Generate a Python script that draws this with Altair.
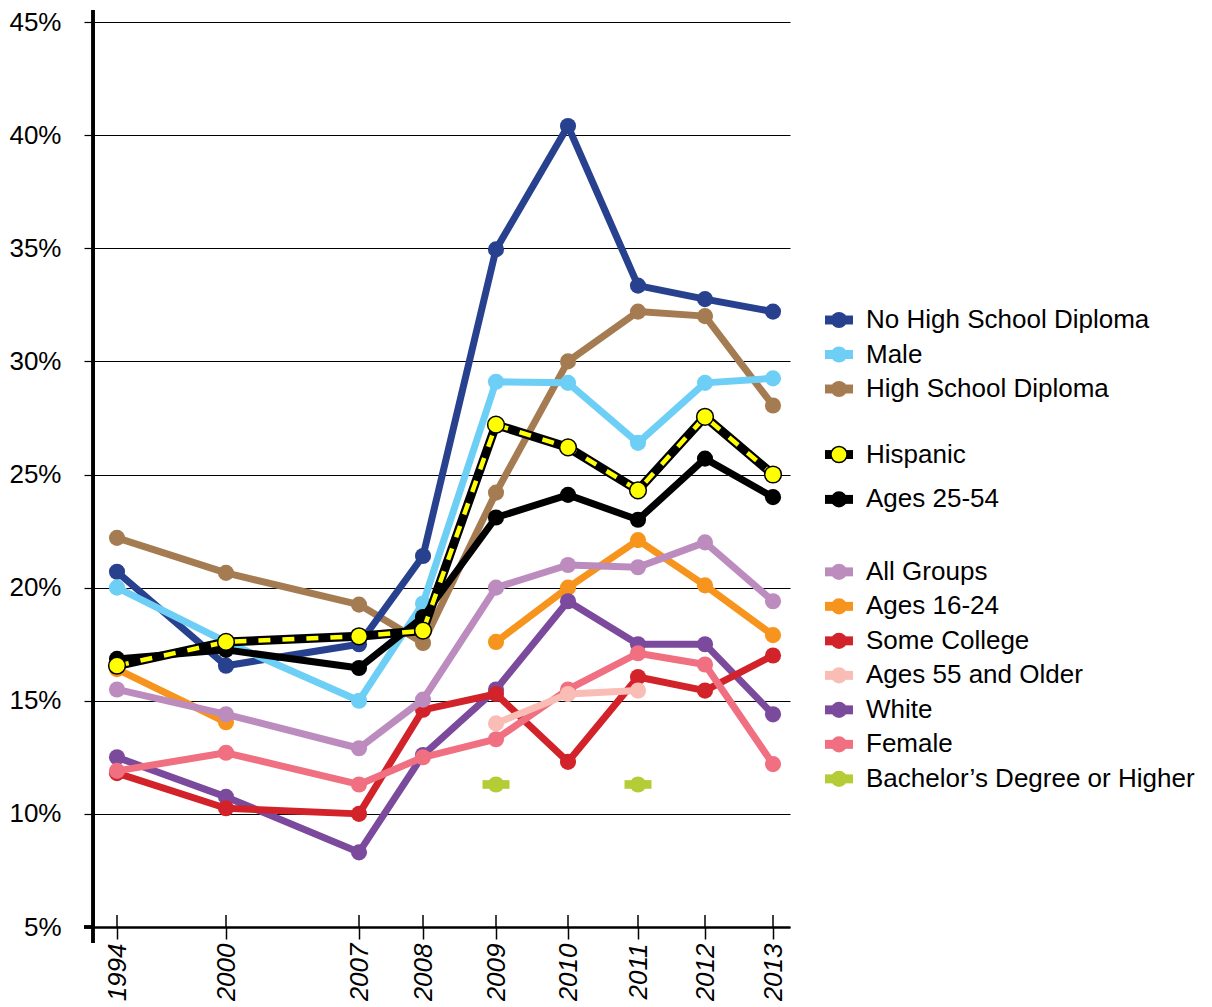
import altair as alt
import pandas as pd

# ---------------- data ----------------
years = [1994, 2000, 2007, 2008, 2009, 2010, 2011, 2012, 2013]

no_hs_diploma = [20.7, 16.55, 17.5, 21.4, 34.95, 40.4, 33.35, 32.75, 32.2]
male = [20.0, 17.6, 15.0, 19.3, 29.1, 29.05, 26.4, 29.05, 29.25]
hs_diploma = [22.2, 20.65, 19.25, 17.55, 24.2, 30.0, 32.2, 32.0, 28.05]
hispanic = [16.55, 17.6, 17.85, 18.1, 27.2, 26.2, 24.3, 27.55, 25.0]
ages_25_54 = [16.85, 17.25, 16.45, 18.7, 23.1, 24.1, 23.0, 25.7, 24.0]
all_groups = [15.5, 14.4, 12.9, 15.05, 20.0, 21.0, 20.9, 22.0, 19.4]
ages_16_24 = [16.4, 14.05, None, None, 17.6, 20.0, 22.1, 20.1, 17.9]
some_college = [11.8, 10.25, 10.0, 14.6, 15.3, 12.3, 16.05, 15.45, 17.0]
ages_55_older = [None, None, None, None, 14.0, 15.3, 15.45, None, None]
white = [12.5, 10.75, 8.3, 12.6, 15.5, 19.4, 17.5, 17.5, 14.4]
female = [11.9, 12.7, 11.3, 12.5, 13.3, 15.5, 17.1, 16.6, 12.2]
bachelors = [None, None, None, None, 11.3, None, 11.3, None, None]

series_names = [
    "No High School Diploma", "Male", "High School Diploma",
    "Hispanic", "Ages 25-54",
    "All Groups", "Ages 16-24", "Some College", "Ages 55 and Older",
    "White", "Female", "Bachelor\u2019s Degree or Higher",
]
series_values = [
    no_hs_diploma, male, hs_diploma, hispanic, ages_25_54, all_groups,
    ages_16_24, some_college, ages_55_older, white, female, bachelors,
]
y_ticks = [5, 10, 15, 20, 25, 30, 35, 40, 45]

# ---------------- styles ----------------
colors = {
    "No High School Diploma": "#27418f",
    "Male": "#6dcff6",
    "High School Diploma": "#a57c52",
    "Hispanic": "#000000",
    "Ages 25-54": "#000000",
    "All Groups": "#bc8cbf",
    "Ages 16-24": "#f7941e",
    "Some College": "#d2232a",
    "Ages 55 and Older": "#f9bdb5",
    "White": "#7b4a9c",
    "Female": "#f06f80",
    "Bachelor\u2019s Degree or Higher": "#b5cc36",
}
draw_order = [
    "Bachelor\u2019s Degree or Higher", "Ages 16-24", "White", "Some College",
    "Female", "Ages 55 and Older", "All Groups", "High School Diploma",
    "No High School Diploma", "Male", "Ages 25-54", "Hispanic",
]
# legend row slots (gaps between groups)
legend_slots = [0, 1, 2, 3.9, 5.2, 7.3, 8.3, 9.3, 10.3, 11.3, 12.3, 13.3]

W, H = 697, 905
FONT = "Liberation Sans"
BAR_PATH = "M-1,-0.32L1,-0.32L1,0.32L-1,0.32Z"
DOT = 260

# x scale: piecewise positions of the (unevenly spaced) years
x_domain = [1992.68] + years + [2013.25]
x_range = [0, 24, 133, 266, 330, 403, 475, 545, 612, 680, 697]

rows = []
for name, vals in zip(series_names, series_values):
    seg, gap = 0, True
    for yr, v in zip(years, vals):
        if v is None:
            gap = True
            continue
        if gap:
            seg += 1
            gap = False
        rows.append(dict(series=name, year=yr, value=v, seg=seg))
df = pd.DataFrame(rows)

xscale = alt.Scale(domain=x_domain, range=x_range, zero=False, nice=False)
yscale = alt.Scale(domain=[5, 45], zero=False, nice=False)
xaxis = alt.Axis(values=years, format="d", labelAngle=-90, labelFontStyle="italic",
                 labelFontSize=26, labelColor="black", labelFont=FONT, labelPadding=4,
                 labelOverlap=False, labelFlush=False, tickSize=12, tickWidth=1.5,
                 tickColor="black", domainColor="black", domainWidth=2.5, grid=False,
                 title=None)
yaxis = alt.Axis(values=y_ticks, labelExpr="datum.value + '%'", labelFontSize=26,
                 labelColor="black", labelFont=FONT, labelPadding=23, tickSize=9,
                 tickWidth=1.2, tickColor="black", domainColor="black", domainWidth=2.5,
                 grid=True, gridColor="black", gridWidth=1.2, gridOpacity=1, title=None)

X = alt.X("year:Q", scale=xscale, axis=xaxis)
Y = alt.Y("value:Q", scale=yscale, axis=yaxis)

base = alt.Chart(df)
layers = []

# tick marks crossing above the x axis
tick_df = pd.DataFrame({"year": years})
layers.append(alt.Chart(tick_df).mark_rule(color="black", strokeWidth=1.5).encode(
    x=alt.X("year:Q", scale=xscale, axis=xaxis), y=alt.value(H - 12), y2=alt.value(H)))
# axis line extensions
layers.append(alt.Chart(tick_df).mark_rule(color="black", strokeWidth=2.5).encode(
    x=alt.value(0), y=alt.value(-12), y2=alt.value(H + 16)))
layers.append(alt.Chart(tick_df).mark_rule(color="black", strokeWidth=2.5).encode(
    x=alt.value(-9), x2=alt.value(0), y=alt.value(H)))

for name in draw_order:
    sub = base.transform_filter(alt.datum.series == name)
    c = colors[name]
    if name.startswith("Bachelor"):
        layers.append(sub.mark_point(shape=BAR_PATH, filled=True, opacity=1, color=c,
                                     size=27 * 27).encode(x=X, y=Y))
        layers.append(sub.mark_point(shape="circle", filled=True, opacity=1, color=c,
                                     size=DOT).encode(x=X, y=Y))
        continue
    if name == "Hispanic":
        layers.append(sub.mark_line(color="black", strokeWidth=9, strokeCap="butt").encode(
            x=X, y=Y, detail="seg:N"))
        layers.append(sub.mark_line(color="#ffff00", strokeWidth=4.5, strokeDash=[12, 12],
                                    strokeCap="butt").encode(x=X, y=Y, detail="seg:N"))
        layers.append(sub.mark_point(shape="circle", filled=True, opacity=1, fill="#ffff00",
                                     stroke="black", strokeWidth=1.5, size=280).encode(x=X, y=Y))
        continue
    layers.append(sub.mark_line(color=c, strokeWidth=7, strokeJoin="round",
                                strokeCap="round").encode(x=X, y=Y, detail="seg:N"))
    layers.append(sub.mark_point(shape="circle", filled=True, opacity=1, color=c,
                                 size=DOT).encode(x=X, y=Y))

main = alt.layer(*layers).properties(width=W, height=H)

# ---------------- legend ----------------
leg_df = pd.DataFrame({
    "name": series_names,
    "slot": legend_slots,
    "color": [colors[n] for n in series_names],
    "fill": ["#ffff00" if n == "Hispanic" else colors[n] for n in series_names],
})
top_px, pitch = 298, 34.5
lscale = alt.Scale(domain=[-top_px / pitch, (H - top_px) / pitch], reverse=True,
                   zero=False, nice=False)
LY = alt.Y("slot:Q", scale=lscale, axis=None)
leg_base = alt.Chart(leg_df)
leg_bar = leg_base.mark_point(shape=BAR_PATH, filled=True, opacity=1, size=28 * 28).encode(
    x=alt.value(14), y=LY, color=alt.Color("color:N", scale=None, legend=None))
leg_dot = leg_base.mark_point(shape="circle", filled=True, opacity=1, size=DOT,
                              stroke="black", strokeWidth=0).encode(
    x=alt.value(14), y=LY, fill=alt.Fill("fill:N", scale=None, legend=None),
    strokeWidth=alt.condition(alt.datum.name == "Hispanic", alt.value(1.5), alt.value(0)))
leg_text = leg_base.mark_text(align="left", baseline="middle", fontSize=26, font=FONT,
                              color="black").encode(
    x=alt.value(41), y=LY, text="name:N")
legend = alt.layer(leg_bar, leg_dot, leg_text).properties(width=360, height=H)

chart = alt.hconcat(main, legend, spacing=34).properties(
    padding={"left": 0, "top": 0, "right": 0, "bottom": 0}
).configure(font=FONT).configure_view(strokeWidth=0)

chart.save("out.html", embed_options={"renderer": "svg", "actions": False})
